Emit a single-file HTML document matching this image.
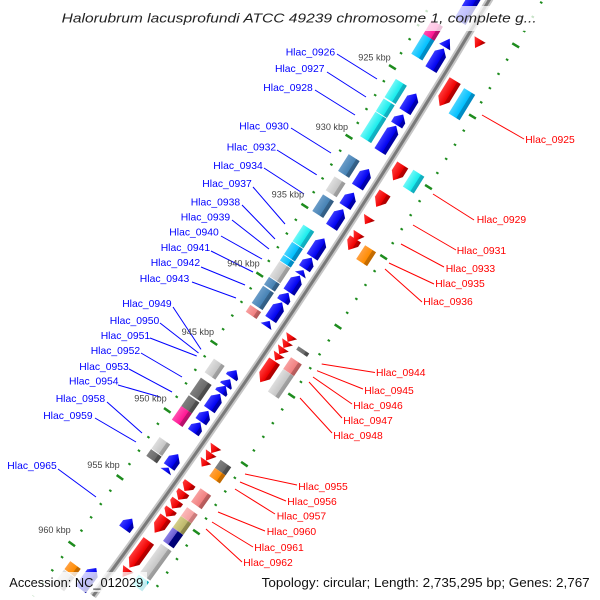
<!DOCTYPE html>
<html><head><meta charset="utf-8"><style>html,body{margin:0;padding:0;background:#fff;overflow:hidden;width:600px;height:600px}svg{display:block}</style></head>
<body>
<svg width="600" height="600" viewBox="0 0 600 600" xmlns="http://www.w3.org/2000/svg" font-family="'Liberation Sans', sans-serif" overflow="hidden">
<defs>
<clipPath id="frame"><rect x="0" y="0" width="600" height="600"/></clipPath>
<linearGradient id="gBlue" x1="0" x2="1" y1="0" y2="0"><stop offset="0" stop-color="#3a3aff"/><stop offset="0.68" stop-color="#0000f0"/><stop offset="0.7" stop-color="#0000b4"/><stop offset="1" stop-color="#0000a0"/></linearGradient>
<linearGradient id="gRed" x1="0" x2="1" y1="0" y2="0"><stop offset="0" stop-color="#ff3a3a"/><stop offset="0.68" stop-color="#ee0000"/><stop offset="0.7" stop-color="#c00000"/><stop offset="1" stop-color="#a80000"/></linearGradient>
<linearGradient id="gCyan" x1="0" x2="1" y1="0" y2="0"><stop offset="0" stop-color="#6ff8f8"/><stop offset="0.68" stop-color="#18ecec"/><stop offset="0.7" stop-color="#10b8c8"/><stop offset="1" stop-color="#10a8b8"/></linearGradient>
<linearGradient id="gSky" x1="0" x2="1" y1="0" y2="0"><stop offset="0" stop-color="#48d4ff"/><stop offset="0.68" stop-color="#00bfff"/><stop offset="0.7" stop-color="#0090c8"/><stop offset="1" stop-color="#0088c0"/></linearGradient>
<linearGradient id="gSteel" x1="0" x2="1" y1="0" y2="0"><stop offset="0" stop-color="#6a9cc8"/><stop offset="0.68" stop-color="#4682b4"/><stop offset="0.7" stop-color="#36648c"/><stop offset="1" stop-color="#305a80"/></linearGradient>
<linearGradient id="gGrey" x1="0" x2="1" y1="0" y2="0"><stop offset="0" stop-color="#dedede"/><stop offset="0.68" stop-color="#c6c6c6"/><stop offset="0.7" stop-color="#a2a2a2"/><stop offset="1" stop-color="#989898"/></linearGradient>
<linearGradient id="gDim" x1="0" x2="1" y1="0" y2="0"><stop offset="0" stop-color="#808080"/><stop offset="0.68" stop-color="#6a6a6a"/><stop offset="0.7" stop-color="#505050"/><stop offset="1" stop-color="#484848"/></linearGradient>
<linearGradient id="gPink" x1="0" x2="1" y1="0" y2="0"><stop offset="0" stop-color="#ff50b0"/><stop offset="0.68" stop-color="#ff1493"/><stop offset="0.7" stop-color="#c01070"/><stop offset="1" stop-color="#b00e68"/></linearGradient>
<linearGradient id="gCoral" x1="0" x2="1" y1="0" y2="0"><stop offset="0" stop-color="#f8a0a0"/><stop offset="0.68" stop-color="#f08080"/><stop offset="0.7" stop-color="#c06060"/><stop offset="1" stop-color="#b05858"/></linearGradient>
<linearGradient id="gCoral2" x1="0" x2="1" y1="0" y2="0"><stop offset="0" stop-color="#fbb8b8"/><stop offset="0.68" stop-color="#f4a0a0"/><stop offset="0.7" stop-color="#d08080"/><stop offset="1" stop-color="#c87878"/></linearGradient>
<linearGradient id="gOrange" x1="0" x2="1" y1="0" y2="0"><stop offset="0" stop-color="#ffa040"/><stop offset="0.68" stop-color="#ff8c00"/><stop offset="0.7" stop-color="#c86e00"/><stop offset="1" stop-color="#c06800"/></linearGradient>
<linearGradient id="gKhaki" x1="0" x2="1" y1="0" y2="0"><stop offset="0" stop-color="#d4ce88"/><stop offset="0.68" stop-color="#bdb76b"/><stop offset="0.7" stop-color="#908a50"/><stop offset="1" stop-color="#888248"/></linearGradient>
<linearGradient id="gSlate" x1="0" x2="1" y1="0" y2="0"><stop offset="0" stop-color="#8a80e8"/><stop offset="0.48" stop-color="#6a5acd"/><stop offset="0.5" stop-color="#000080"/><stop offset="1" stop-color="#000070"/></linearGradient>
</defs>
<rect width="600" height="600" fill="#fff"/>

<g clip-path="url(#frame)">
<g transform="translate(-5694 -3681)">
  <!-- tick rings -->
  <path d="M6195.65 3564.80 A7148 7148 0 0 1 5727.23 4277" fill="none" stroke="#1e8c1e" stroke-width="2.6" stroke-dasharray="2 14.419" stroke-dashoffset="1"/>
  <path d="M6195.65 3564.80 A7148 7148 0 0 1 5727.23 4277" fill="none" stroke="#1e8c1e" stroke-width="8" stroke-dasharray="2.5 79.595" stroke-dashoffset="-48.007"/>
  <path d="M6277.13 3611.68 A7242 7242 0 0 1 5844.13 4277" fill="none" stroke="#1e8c1e" stroke-width="2.6" stroke-dasharray="2 14.635" stroke-dashoffset="1"/>
  <path d="M6277.13 3611.68 A7242 7242 0 0 1 5844.13 4277" fill="none" stroke="#1e8c1e" stroke-width="8" stroke-dasharray="2.5 80.675" stroke-dashoffset="-48.655"/>
  <!-- backbone -->
  <path d="M6237.26 3588.74 A7196 7196 0 0 1 5787.03 4277" fill="none" stroke="#c6c6c6" stroke-width="7"/>
  <path d="M6237.26 3588.74 A7196 7196 0 0 1 5787.03 4277" fill="none" stroke="#7a7a7a" stroke-width="3"/>

  <!-- left box ring -->
  <g transform="rotate(31.2048) translate(7163.5 0)"><rect x="-6.5" y="-8.25" width="13" height="16.5" fill="url(#gPink)"/></g>
  <g transform="rotate(31.3628) translate(7163.5 0)"><rect x="-6.5" y="-11.55" width="13" height="23.1" fill="url(#gSky)"/></g>
  <g transform="rotate(31.7774) translate(7163.5 0)"><rect x="-6.5" y="-10.725" width="13" height="21.45" fill="url(#gCyan)"/></g>
  <g transform="rotate(31.9353) translate(7163.5 0)"><rect x="-6.5" y="-7.425" width="13" height="14.85" fill="url(#gCyan)"/></g>
  <g transform="rotate(32.1163) translate(7163.5 0)"><rect x="-6.5" y="-14.45" width="13" height="28.9" fill="url(#gCyan)"/></g>
  <g transform="rotate(32.4815) translate(7163.5 0)"><rect x="-6.5" y="-9.9" width="13" height="19.8" fill="url(#gSteel)"/></g>
  <g transform="rotate(32.6789) translate(7163.5 0)"><rect x="-6.5" y="-8.25" width="13" height="16.5" fill="url(#gGrey)"/></g>
  <g transform="rotate(32.8631) translate(7163.5 0)"><rect x="-6.5" y="-9.9" width="13" height="19.8" fill="url(#gSteel)"/></g>
  <g transform="rotate(33.1527) translate(7163.5 0)"><rect x="-6.5" y="-9.9" width="13" height="19.8" fill="url(#gCyan)"/></g>
  <g transform="rotate(33.2975) translate(7163.5 0)"><rect x="-6.5" y="-7.425" width="13" height="14.85" fill="url(#gSky)"/></g>
  <g transform="rotate(33.3896) translate(7163.5 0)"><rect x="-6.5" y="-3.3" width="13" height="6.6" fill="url(#gSky)"/></g>
  <g transform="rotate(33.4949) translate(7163.5 0)"><rect x="-6.5" y="-9.075" width="13" height="18.15" fill="url(#gGrey)"/></g>
  <g transform="rotate(33.6100) translate(7163.5 0)"><rect x="-6.5" y="-4.55" width="13" height="9.1" fill="url(#gSteel)"/></g>
  <g transform="rotate(33.7416) translate(7163.5 0)"><rect x="-6.5" y="-10.3" width="13" height="20.6" fill="url(#gSteel)"/></g>
  <g transform="rotate(33.8765) translate(7163.5 0)"><rect x="-6.5" y="-4.125" width="13" height="8.25" fill="url(#gCoral)"/></g>
  <g transform="rotate(34.4293) translate(7163.5 0)"><rect x="-6.5" y="-8.25" width="13" height="16.5" fill="url(#gGrey)"/></g>
  <g transform="rotate(34.6267) translate(7163.5 0)"><rect x="-6.5" y="-9.9" width="13" height="19.8" fill="url(#gDim)"/></g>
  <g transform="rotate(34.7715) translate(7163.5 0)"><rect x="-6.5" y="-6.6" width="13" height="13.2" fill="url(#gDim)"/></g>
  <g transform="rotate(34.8899) translate(7163.5 0)"><rect x="-6.5" y="-8.25" width="13" height="16.5" fill="url(#gPink)"/></g>
  <g transform="rotate(35.1828) translate(7163.5 0)"><rect x="-6.5" y="-7" width="13" height="14" fill="url(#gGrey)"/></g>
  <g transform="rotate(35.2782) translate(7163.5 0)"><rect x="-6.5" y="-4.125" width="13" height="8.25" fill="url(#gDim)"/></g>
  <g transform="rotate(36.3903) translate(7163.5 0)"><rect x="-6.5" y="-4.95" width="13" height="9.9" fill="url(#gOrange)"/></g>
  <g transform="rotate(36.5054) translate(7163.5 0)"><rect x="-6.5" y="-8.65" width="13" height="17.3" fill="url(#gGrey)"/></g>

  <!-- left arrow ring (blue, pointing -y) -->
  <g fill="url(#gBlue)">
  <g transform="rotate(30.889) translate(7182 0)"><polygon points="-6.5,18.15 6.5,18.15 6.5,-11.65 0,-18.15 -6.5,-11.65"/></g>
  <g transform="rotate(31.2312) translate(7182 0)"><polygon points="-6.5,4.95 6.5,4.95 0,-4.95"/></g>
  <g transform="rotate(31.3825) translate(7182 0)"><polygon points="-6.5,12.375 6.5,12.375 6.5,-5.875 0,-12.375 -6.5,-5.875"/></g>
  <g transform="rotate(31.7905) translate(7182 0)"><polygon points="-6.5,10.725 6.5,10.725 6.5,-4.225 0,-10.725 -6.5,-4.225"/></g>
  <g transform="rotate(31.9517) translate(7182 0)"><polygon points="-6.5,6.2 6.5,6.2 6.5,0.3 0,-6.2 -6.5,0.3"/></g>
  <g transform="rotate(32.1294) translate(7182 0)"><polygon points="-6.5,15.25 6.5,15.25 6.5,-8.75 0,-15.25 -6.5,-8.75"/></g>
  <g transform="rotate(32.5012) translate(7182 0)"><polygon points="-6.5,10.725 6.5,10.725 6.5,-4.225 0,-10.725 -6.5,-4.225"/></g>
  <g transform="rotate(32.7052) translate(7182 0)"><polygon points="-6.5,8.25 6.5,8.25 6.5,-1.75 0,-8.25 -6.5,-1.75"/></g>
  <g transform="rotate(32.8829) translate(7182 0)"><polygon points="-6.5,10.725 6.5,10.725 6.5,-4.225 0,-10.725 -6.5,-4.225"/></g>
  <g transform="rotate(33.1626) translate(7182 0)"><polygon points="-6.5,11.15 6.5,11.15 6.5,-4.65 0,-11.15 -6.5,-4.65"/></g>
  <g transform="rotate(33.3106) translate(7182 0)"><polygon points="-6.5,6.6 6.5,6.6 6.5,-0.1 0,-6.6 -6.5,-0.1"/></g>
  <g transform="rotate(33.3994) translate(7182 0)"><polygon points="-6.5,2.9 6.5,2.9 0,-2.9"/></g>
  <g transform="rotate(33.508) translate(7182 0)"><polygon points="-6.5,9.9 6.5,9.9 6.5,-3.4 0,-9.9 -6.5,-3.4"/></g>
  <g transform="rotate(33.6363) translate(7182 0)"><polygon points="-6.5,5.35 6.5,5.35 6.5,1.15 0,-5.35 -6.5,1.15"/></g>
  <g transform="rotate(33.7679) translate(7182 0)"><polygon points="-6.5,10.3 6.5,10.3 6.5,-3.8 0,-10.3 -6.5,-3.8"/></g>
  <g transform="rotate(33.8897) translate(7182 0)"><polygon points="-6.5,3.3 6.5,3.3 0,-3.3"/></g>
  <g transform="rotate(34.3734) translate(7182 0)"><polygon points="-6.5,4.55 6.5,4.55 6.5,1.95 0,-4.55 -6.5,1.95"/></g>
  <g transform="rotate(34.459) translate(7182 0)"><polygon points="-6.5,4.125 6.5,4.125 6.5,2.375 0,-4.125 -6.5,2.375"/></g>
  <g transform="rotate(34.5247) translate(7182 0)"><polygon points="-6.5,4.55 6.5,4.55 6.5,1.95 0,-4.55 -6.5,1.95"/></g>
  <g transform="rotate(34.6432) translate(7182 0)"><polygon points="-6.5,9.5 6.5,9.5 6.5,-3 0,-9.5 -6.5,-3"/></g>
  <g transform="rotate(34.7846) translate(7182 0)"><polygon points="-6.5,6.6 6.5,6.6 6.5,-0.1 0,-6.6 -6.5,-0.1"/></g>
  <g transform="rotate(34.8932) translate(7182 0)"><polygon points="-6.5,6.2 6.5,6.2 6.5,0.3 0,-6.2 -6.5,0.3"/></g>
  <g transform="rotate(35.2157) translate(7182 0)"><polygon points="-6.5,7.85 6.5,7.85 6.5,-1.35 0,-7.85 -6.5,-1.35"/></g>
  <g transform="rotate(35.3045) translate(7182 0)"><polygon points="-6.5,2.5 6.5,2.5 0,-2.5"/></g>
  <g transform="rotate(35.8375) translate(7182 0)"><polygon points="-6.5,6.6 6.5,6.6 6.5,-0.1 0,-6.6 -6.5,-0.1"/></g>
  <g transform="rotate(36.3771) translate(7182 0)"><polygon points="-6.5,13.2 6.5,13.2 6.5,-6.7 0,-13.2 -6.5,-6.7"/></g>
  </g>

  <!-- right red ring (pointing +y) -->
  <g fill="url(#gRed)">
  <g transform="rotate(31.1127) translate(7208.5 0)"><polygon points="-6.5,-4.95 6.5,-4.95 0,4.95"/></g>
  <g transform="rotate(31.5734) translate(7208.5 0)"><polygon points="-6.5,-14.85 6.5,-14.85 6.5,6.85 0,14.85 -6.5,6.85"/></g>
  <g transform="rotate(32.317) translate(7208.5 0)"><polygon points="-6.5,-9.075 6.5,-9.075 6.5,1.075 0,9.075 -6.5,1.075"/></g>
  <g transform="rotate(32.5736) translate(7208.5 0)"><polygon points="-6.5,-8.25 6.5,-8.25 6.5,0.25 0,8.25 -6.5,0.25"/></g>
  <g transform="rotate(32.771) translate(7208.5 0)"><polygon points="-6.5,-4.125 6.5,-4.125 0,4.125"/></g>
  <g transform="rotate(32.9289) translate(7208.5 0)"><polygon points="-6.5,-4.95 6.5,-4.95 0,4.95"/></g>
  <g transform="rotate(32.9947) translate(7208.5 0)"><polygon points="-6.5,-6.6 6.5,-6.6 6.5,-1.4 0,6.6 -6.5,-1.4"/></g>
  <g transform="rotate(33.893) translate(7208.5 0)"><polygon points="-6.5,-3.7 6.5,-3.7 0,3.7"/></g>
  <g transform="rotate(33.9522) translate(7208.5 0)"><polygon points="-6.5,-3.7 6.5,-3.7 0,3.7"/></g>
  <g transform="rotate(34.0114) translate(7208.5 0)"><polygon points="-6.5,-3.7 6.5,-3.7 0,3.7"/></g>
  <g transform="rotate(34.0707) translate(7208.5 0)"><polygon points="-6.5,-3.7 6.5,-3.7 0,3.7"/></g>
  <g transform="rotate(34.2088) translate(7208.5 0)"><polygon points="-6.5,-12.8 6.5,-12.8 6.5,4.8 0,12.8 -6.5,4.8"/></g>
  <g transform="rotate(34.9623) translate(7208.5 0)"><polygon points="-6.5,-4.125 6.5,-4.125 0,4.125"/></g>
  <g transform="rotate(35.0314) translate(7208.5 0)"><polygon points="-6.5,-4.55 6.5,-4.55 0,4.55"/></g>
  <g transform="rotate(35.0972) translate(7208.5 0)"><polygon points="-6.5,-3.7 6.5,-3.7 0,3.7"/></g>
  <g transform="rotate(35.3243) translate(7208.5 0)"><polygon points="-6.5,-4.95 6.5,-4.95 6.5,-1.05 0,4.95 -6.5,-1.05"/></g>
  <g transform="rotate(35.4098) translate(7208.5 0)"><polygon points="-6.5,-4.95 6.5,-4.95 6.5,-1.05 0,4.95 -6.5,-1.05"/></g>
  <g transform="rotate(35.4953) translate(7208.5 0)"><polygon points="-6.5,-4.95 6.5,-4.95 6.5,-1.05 0,4.95 -6.5,-1.05"/></g>
  <g transform="rotate(35.5776) translate(7208.5 0)"><polygon points="-6.5,-4.55 6.5,-4.55 6.5,-1.45 0,4.55 -6.5,-1.45"/></g>
  <g transform="rotate(35.696) translate(7208.5 0)"><polygon points="-6.5,-9.5 6.5,-9.5 6.5,1.5 0,9.5 -6.5,1.5"/></g>
  <g transform="rotate(35.9823) translate(7208.5 0)"><polygon points="-6.5,-16.5 6.5,-16.5 6.5,8.5 0,16.5 -6.5,8.5"/></g>
  <g transform="rotate(36.1666) translate(7208.5 0)"><polygon points="-6.5,-4.95 6.5,-4.95 0,4.95"/></g>
  </g>

  <!-- right box ring -->
  <g transform="rotate(31.5865) translate(7226.5 0)"><rect x="-6.5" y="-14.85" width="13" height="29.7" fill="url(#gSky)"/></g>
  <g transform="rotate(32.3104) translate(7226.5 0)"><rect x="-6.5" y="-9.9" width="13" height="19.8" fill="url(#gCyan)"/></g>
  <g transform="rotate(33.0079) translate(7226.5 0)"><rect x="-6.5" y="-8.25" width="13" height="16.5" fill="url(#gOrange)"/></g>
  <g transform="rotate(33.9193) translate(7226.5 0)"><rect x="-6.5" y="-2.05" width="13" height="4.1" fill="url(#gDim)"/></g>
  <g transform="rotate(34.0641) translate(7226.5 0)"><rect x="-6.5" y="-7" width="13" height="14" fill="url(#gCoral)"/></g>
  <g transform="rotate(34.2286) translate(7226.5 0)"><rect x="-6.5" y="-13.6" width="13" height="27.2" fill="url(#gGrey)"/></g>
  <g transform="rotate(35.0347) translate(7226.5 0)"><rect x="-6.5" y="-4.95" width="13" height="9.9" fill="url(#gDim)"/></g>
  <g transform="rotate(35.1137) translate(7226.5 0)"><rect x="-6.5" y="-4.95" width="13" height="9.9" fill="url(#gOrange)"/></g>
  <g transform="rotate(35.3374) translate(7226.5 0)"><rect x="-6.5" y="-8.25" width="13" height="16.5" fill="url(#gCoral)"/></g>
  <g transform="rotate(35.4986) translate(7226.5 0)"><rect x="-6.5" y="-5.35" width="13" height="10.7" fill="url(#gCoral2)"/></g>
  <g transform="rotate(35.5973) translate(7226.5 0)"><rect x="-6.5" y="-7" width="13" height="14" fill="url(#gKhaki)"/></g>
  <g transform="rotate(35.7191) translate(7226.5 0)"><rect x="-6.5" y="-8.25" width="13" height="16.5" fill="url(#gSlate)"/></g>
  <g transform="rotate(35.956) translate(7226.5 0)"><rect x="-6.5" y="-18.15" width="13" height="36.3" fill="url(#gGrey)"/></g>
  <g transform="rotate(36.16) translate(7226.5 0)"><rect x="-6.5" y="-5.775" width="13" height="11.55" fill="url(#gCyan)"/></g>
</g>
</g>

<!-- label lines -->
<g stroke="#0000ff" stroke-width="1" fill="none">
  <line x1="337" y1="54" x2="377" y2="79"/>
  <line x1="327" y1="72" x2="366" y2="97"/>
  <line x1="315" y1="90" x2="355" y2="115"/>
  <line x1="291" y1="128" x2="331" y2="153"/>
  <line x1="277" y1="150" x2="316.7" y2="174.8"/>
  <line x1="264" y1="168" x2="304" y2="194"/>
  <line x1="253" y1="187" x2="285" y2="224"/>
  <line x1="242" y1="205" x2="275" y2="239"/>
  <line x1="232" y1="220" x2="269" y2="249"/>
  <line x1="221" y1="236" x2="262" y2="259"/>
  <line x1="211" y1="251" x2="253" y2="272"/>
  <line x1="201" y1="267" x2="245" y2="285"/>
  <line x1="192" y1="282" x2="236" y2="298"/>
  <line x1="173" y1="307" x2="201" y2="349.4"/>
  <line x1="160" y1="323" x2="198.5" y2="353"/>
  <line x1="150" y1="338" x2="196.7" y2="356"/>
  <line x1="141" y1="353" x2="182" y2="377"/>
  <line x1="129" y1="369" x2="172" y2="392"/>
  <line x1="118" y1="385" x2="160" y2="397"/>
  <line x1="107" y1="402" x2="142" y2="433"/>
  <line x1="95" y1="418" x2="136" y2="442"/>
  <line x1="58" y1="469" x2="96" y2="497"/>
</g>
<g stroke="#ff0000" stroke-width="1" fill="none">
  <line x1="482" y1="115" x2="524" y2="139"/>
  <line x1="433" y1="194" x2="474" y2="220"/>
  <line x1="413" y1="225" x2="456" y2="250"/>
  <line x1="401" y1="244" x2="444" y2="267"/>
  <line x1="389" y1="263" x2="434" y2="284"/>
  <line x1="385" y1="269" x2="422" y2="302"/>
  <line x1="321.7" y1="364" x2="375" y2="372.5"/>
  <line x1="317" y1="370.7" x2="363" y2="389"/>
  <line x1="313" y1="377" x2="352" y2="404"/>
  <line x1="309" y1="382" x2="342" y2="418"/>
  <line x1="300" y1="398" x2="332" y2="433"/>
  <line x1="245" y1="474" x2="297" y2="485"/>
  <line x1="240" y1="482" x2="286" y2="501"/>
  <line x1="235" y1="489" x2="275" y2="514"/>
  <line x1="218" y1="512" x2="265" y2="531"/>
  <line x1="212" y1="522" x2="253" y2="547"/>
  <line x1="206" y1="529" x2="242" y2="562"/>
</g>

<!-- kbp labels -->
<g font-size="9" fill="#444">
  <text x="358.3" y="60.5" textLength="32.4" lengthAdjust="spacingAndGlyphs">925 kbp</text>
  <text x="315.7" y="129.9" textLength="32.4" lengthAdjust="spacingAndGlyphs">930 kbp</text>
  <text x="271.7" y="197.5" textLength="32.4" lengthAdjust="spacingAndGlyphs">935 kbp</text>
  <text x="227.3" y="266.5" textLength="32.4" lengthAdjust="spacingAndGlyphs">940 kbp</text>
  <text x="181.7" y="334.9" textLength="32.4" lengthAdjust="spacingAndGlyphs">945 kbp</text>
  <text x="134.3" y="401.5" textLength="32.4" lengthAdjust="spacingAndGlyphs">950 kbp</text>
  <text x="87.3" y="468.2" textLength="32.4" lengthAdjust="spacingAndGlyphs">955 kbp</text>
  <text x="38.3" y="533.2" textLength="32.4" lengthAdjust="spacingAndGlyphs">960 kbp</text>
</g>

<!-- blue labels -->
<g font-size="10.5" fill="#0000ff">
  <text x="285.7" y="55.5" textLength="49.5" lengthAdjust="spacingAndGlyphs">Hlac_0926</text>
  <text x="275" y="72.1" textLength="49.5" lengthAdjust="spacingAndGlyphs">Hlac_0927</text>
  <text x="263.3" y="91.1" textLength="49.5" lengthAdjust="spacingAndGlyphs">Hlac_0928</text>
  <text x="239.3" y="129.5" textLength="49.5" lengthAdjust="spacingAndGlyphs">Hlac_0930</text>
  <text x="226.7" y="150.5" textLength="49.5" lengthAdjust="spacingAndGlyphs">Hlac_0932</text>
  <text x="213.3" y="168.8" textLength="49.5" lengthAdjust="spacingAndGlyphs">Hlac_0934</text>
  <text x="202.3" y="187.1" textLength="49.5" lengthAdjust="spacingAndGlyphs">Hlac_0937</text>
  <text x="190.7" y="205.5" textLength="49.5" lengthAdjust="spacingAndGlyphs">Hlac_0938</text>
  <text x="180.7" y="220.5" textLength="49.5" lengthAdjust="spacingAndGlyphs">Hlac_0939</text>
  <text x="169.3" y="235.5" textLength="49.5" lengthAdjust="spacingAndGlyphs">Hlac_0940</text>
  <text x="160.7" y="251.1" textLength="49.5" lengthAdjust="spacingAndGlyphs">Hlac_0941</text>
  <text x="150.7" y="266.1" textLength="49.5" lengthAdjust="spacingAndGlyphs">Hlac_0942</text>
  <text x="139.8" y="282.1" textLength="49.5" lengthAdjust="spacingAndGlyphs">Hlac_0943</text>
  <text x="122.2" y="307.1" textLength="49.5" lengthAdjust="spacingAndGlyphs">Hlac_0949</text>
  <text x="109.8" y="323.8" textLength="49.5" lengthAdjust="spacingAndGlyphs">Hlac_0950</text>
  <text x="100.7" y="338.8" textLength="49.5" lengthAdjust="spacingAndGlyphs">Hlac_0951</text>
  <text x="90.7" y="353.8" textLength="49.5" lengthAdjust="spacingAndGlyphs">Hlac_0952</text>
  <text x="79.3" y="369.8" textLength="49.5" lengthAdjust="spacingAndGlyphs">Hlac_0953</text>
  <text x="69" y="384.5" textLength="49.5" lengthAdjust="spacingAndGlyphs">Hlac_0954</text>
  <text x="55.7" y="402.1" textLength="49.5" lengthAdjust="spacingAndGlyphs">Hlac_0958</text>
  <text x="43.2" y="418.8" textLength="49.5" lengthAdjust="spacingAndGlyphs">Hlac_0959</text>
  <text x="7.3" y="468.8" textLength="49.5" lengthAdjust="spacingAndGlyphs">Hlac_0965</text>
</g>

<!-- red labels -->
<g font-size="10.5" fill="#ff0000">
  <text x="525.3" y="142.8" textLength="49.5" lengthAdjust="spacingAndGlyphs">Hlac_0925</text>
  <text x="476.7" y="223.1" textLength="49.5" lengthAdjust="spacingAndGlyphs">Hlac_0929</text>
  <text x="456.7" y="253.8" textLength="49.5" lengthAdjust="spacingAndGlyphs">Hlac_0931</text>
  <text x="445.7" y="271.8" textLength="49.5" lengthAdjust="spacingAndGlyphs">Hlac_0933</text>
  <text x="435.3" y="287.1" textLength="49.5" lengthAdjust="spacingAndGlyphs">Hlac_0935</text>
  <text x="423.3" y="304.8" textLength="49.5" lengthAdjust="spacingAndGlyphs">Hlac_0936</text>
  <text x="376" y="376.1" textLength="49.5" lengthAdjust="spacingAndGlyphs">Hlac_0944</text>
  <text x="364.3" y="393.8" textLength="49.5" lengthAdjust="spacingAndGlyphs">Hlac_0945</text>
  <text x="353.3" y="409.1" textLength="49.5" lengthAdjust="spacingAndGlyphs">Hlac_0946</text>
  <text x="343.3" y="423.8" textLength="49.5" lengthAdjust="spacingAndGlyphs">Hlac_0947</text>
  <text x="333.3" y="439.1" textLength="49.5" lengthAdjust="spacingAndGlyphs">Hlac_0948</text>
  <text x="298.3" y="489.8" textLength="49.5" lengthAdjust="spacingAndGlyphs">Hlac_0955</text>
  <text x="287.3" y="504.8" textLength="49.5" lengthAdjust="spacingAndGlyphs">Hlac_0956</text>
  <text x="276.7" y="519.5" textLength="49.5" lengthAdjust="spacingAndGlyphs">Hlac_0957</text>
  <text x="266.7" y="534.8" textLength="49.5" lengthAdjust="spacingAndGlyphs">Hlac_0960</text>
  <text x="254.3" y="550.8" textLength="49.5" lengthAdjust="spacingAndGlyphs">Hlac_0961</text>
  <text x="243.3" y="565.8" textLength="49.5" lengthAdjust="spacingAndGlyphs">Hlac_0962</text>
</g>

<!-- translucent overlays -->
<rect x="56" y="6" width="486" height="25" fill="#fff" fill-opacity="0.75"/>
<rect x="4" y="572" width="143" height="20" fill="#fff" fill-opacity="0.75"/>
<rect x="256" y="572" width="340" height="20" fill="#fff" fill-opacity="0.75"/>

<!-- title and footer -->
<text x="61.7" y="22.7" font-size="13" font-style="italic" fill="#222" textLength="475" lengthAdjust="spacingAndGlyphs">Halorubrum lacusprofundi ATCC 49239 chromosome 1, complete g...</text>
<text x="9.3" y="587" font-size="13" fill="#111" textLength="134" lengthAdjust="spacingAndGlyphs">Accession: NC_012029</text>
<text x="261.7" y="587" font-size="13" fill="#111" textLength="328" lengthAdjust="spacingAndGlyphs">Topology: circular; Length: 2,735,295 bp; Genes: 2,767</text>
</svg>
</body></html>
